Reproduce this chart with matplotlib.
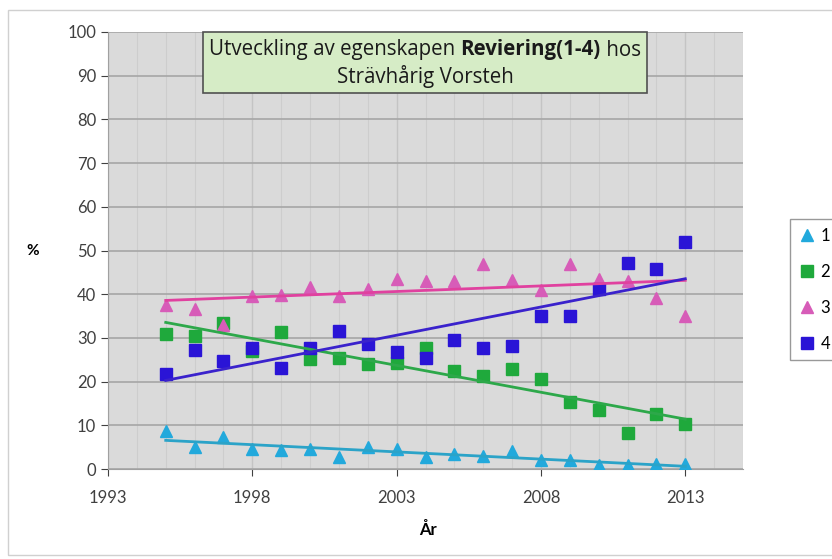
import numpy as np
import matplotlib.pyplot as plt
from matplotlib.patches import Rectangle

plt.rcParams['font.family'] = ['Lato', 'DejaVu Sans']

years = np.arange(1995, 2014)
s1 = [8.7, 5.0, 7.3, 4.5, 4.4, 4.5, 2.7, 5.0, 4.5, 2.8, 3.4, 3.0, 4.1, 2.1, 2.1, 0.9, 0.9, 1.1, 1.1]
s2 = [31.0, 30.5, 33.4, 27.0, 31.4, 25.2, 25.4, 24.1, 24.2, 27.7, 22.5, 21.3, 22.9, 20.6, 15.4, 13.4, 8.3, 12.5, 10.3]
s3 = [37.5, 36.5, 33.0, 39.5, 39.8, 41.7, 39.5, 41.2, 43.5, 43.0, 43.0, 46.8, 43.3, 41.0, 46.8, 43.5, 43.0, 39.1, 34.9]
s4 = [21.8, 27.3, 24.8, 27.7, 23.1, 27.7, 31.5, 28.6, 26.7, 25.4, 29.6, 27.8, 28.2, 34.9, 34.9, 41.2, 47.2, 45.8, 52.0]
labels = ['1', '2', '3', '4']
series = [s1, s2, s3, s4]

markers = ['^', 's', '^', 's']
mcolors = ['#22a9dc', '#1fa93c', '#d75cb8', '#2a14d6']
lcolors = ['#2ba3c8', '#2da84a', '#e0419f', '#3a22cc']

fig = plt.figure(figsize=(8.32, 5.59), dpi=100)
fig.patches.append(Rectangle((8/832, 4/559), 830/832, 545/559, transform=fig.transFigure,
                             fill=False, edgecolor='#d0d0d0', lw=1))
ax = fig.add_axes([108/832, 1-469/559, 635/832, 437/559])
ax.set_facecolor('#dadada')

for ys, lab, m, c in zip(series, labels, markers, mcolors):
    ax.plot(years, ys, linestyle='none', marker=m, color=c, markersize=9, label=lab, zorder=3)

# linear trendlines
for ys, c in zip(series, lcolors):
    k, b = np.polyfit(years, ys, 1)
    ax.plot(years, k*years + b, color=c, lw=2, zorder=4)

ax.set_xlim(1993, 2015)
ax.set_ylim(0, 100)
ax.set_xticks([1993, 1998, 2003, 2008, 2013])
ax.set_xticks(np.arange(1993, 2016), minor=True)
ax.set_yticks(np.arange(0, 101, 10))
ax.grid(which='major', axis='y', color='#a6a6a6', lw=1.2, zorder=0)
ax.grid(which='major', axis='x', color='#c4c4c4', lw=1, zorder=0)
ax.grid(which='minor', axis='x', color='#cdcdcd', lw=0.8, zorder=0)
ax.set_axisbelow(True)
ax.tick_params(which='both', labelsize=12, colors='#404040', length=5, direction='out')
ax.tick_params(which='minor', length=0)
ax.tick_params(axis='x', pad=10)
for sp in ['top', 'right']:
    ax.spines[sp].set_visible(False)
for sp in ['left', 'bottom']:
    ax.spines[sp].set_color('#a0a0a0')

fig.text(33/832, 1-251/559, '%', fontsize=11, fontweight='bold', ha='center', va='center')
fig.text(428/832, 1-530/559, 'År', fontsize=12, fontweight='bold', ha='center', va='center')

# title box
fig.patches.append(Rectangle((203/832, 1-93/559), 444/832, 61/559, transform=fig.transFigure,
                             facecolor='#d6ecc6', edgecolor='#505050', lw=1.2, zorder=5))
r = fig.canvas.get_renderer()
parts = [('Utveckling av egenskapen ', 'normal'), ('Reviering(1-4)', 'bold'), (' hos', 'normal')]
texts = [fig.text(0, 1-50/559, p, fontsize=14.8, fontweight=w, va='center', zorder=6,
                  family=['Open Sans', 'DejaVu Sans'], color='#1a1a1a') for p, w in parts]
widths = [t.get_window_extent(r).width for t in texts]
x = 425 - sum(widths)/2
for t, w in zip(texts, widths):
    t.set_x(x/832)
    x += w
fig.text(425/832, 1-76/559, 'Strävhårig Vorsteh', fontsize=14.8, ha='center', va='center', zorder=6,
         family=['Open Sans', 'DejaVu Sans'], color='#1a1a1a')

fig.legend(loc='upper left', bbox_to_anchor=(782/832, 1-211/559), fontsize=12, frameon=True,
           fancybox=False, edgecolor='#808080', labelspacing=1.2, handletextpad=0.3,
           handlelength=1.0, markerscale=0.9, borderpad=0.5)

fig.savefig('out.png', dpi=100)
